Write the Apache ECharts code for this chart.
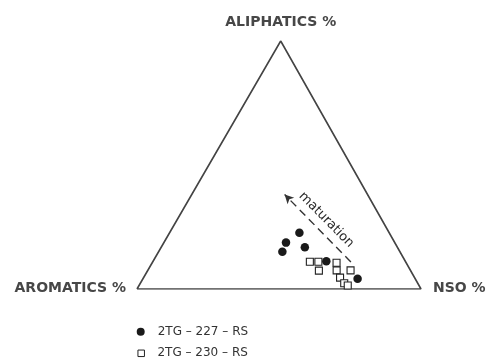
<!DOCTYPE html>
<html>
<head>
<meta charset="utf-8">
<title>Ternary diagram – aliphatics / aromatics / NSO</title>
<script src="https://cdn.jsdelivr.net/npm/echarts@6/dist/echarts.min.js"></script>
<style>
  html, body { margin: 0; padding: 0; background: #fff; }
  #chart { width: 490px; height: 361px; }
</style>
</head>
<body>
<div id="chart"></div>
<script>
// Compositions are [aliphatics %, aromatics %, NSO %]
const vertexNames = ['ALIPHATICS %', 'AROMATICS %', 'NSO %'];
const triangleCorners = [[0, 100, 0], [0, 0, 100], [100, 0, 0], [0, 100, 0]];

const seriesNames = ['2TG – 227 – RS', '2TG – 230 – RS'];

const sample227 = [
  [22.7, 31.6, 45.7],
  [18.7, 38.3, 43.0],
  [15.0, 41.4, 43.6],
  [16.8, 32.6, 50.6],
  [11.2, 27.8, 61.0],
  [4.1, 20.3, 75.6]
];

const sample230 = [
  [11.0, 33.7, 55.3],
  [11.0, 30.7, 58.3],
  [7.4, 32.3, 60.3],
  [10.6, 24.5, 64.9],
  [7.5, 26.0, 66.5],
  [4.6, 26.2, 69.1],
  [2.3, 25.9, 71.8],
  [1.4, 25.1, 73.5],
  [7.5, 21.1, 71.4]
];

// maturation trend: from the low-aliphatic end towards the arrow tip
const maturationTrend = [[10.9, 19.3, 69.8], [38.1, 29.2, 32.7]];
const trendLabel = 'maturation';

// horizontal position of the ALIPHATICS apex as a fraction of the base
const APEX_X = 0.506;

function toXY(c) {
  const s = c[0] + c[1] + c[2];
  const ali = c[0] / s, nso = c[2] / s;
  return [nso + ali * APEX_X, ali];
}

const chart = echarts.init(document.getElementById('chart'), null, { renderer: 'canvas' });

const labelFont = {
  fontFamily: 'DejaVu Sans',
  fontWeight: 'bold',
  fontSize: 14,
  fill: '#474747'
};

const legendText = {
  fontFamily: 'DejaVu Sans',
  fontSize: 12,
  lineHeight: 14,
  color: '#333',
  padding: [0, 0, 0, 8]
};

function legendRow(item, size, left, top) {
  return {
    orient: 'vertical',
    left: left,
    top: top,
    itemWidth: size,
    itemHeight: size,
    data: [item],
    textStyle: legendText,
    selectedMode: false
  };
}

const option = {
  backgroundColor: '#ffffff',
  animation: false,
  grid: { left: 137, top: 41, width: 284, height: 248 },
  xAxis: { type: 'value', min: 0, max: 1, show: false },
  yAxis: { type: 'value', min: 0, max: 1, show: false },
  legend: [
    legendRow({ name: seriesNames[0], icon: 'circle' }, 8, 131.7, 319.7),
    legendRow({ name: seriesNames[1], icon: 'rect',
                itemStyle: { color: '#fff', borderColor: '#222', borderWidth: 1 } },
              6.5, 132.45, 341.3)
  ],
  series: [
    {
      name: 'frame',
      type: 'line',
      silent: true,
      symbol: 'none',
      data: triangleCorners.map(toXY),
      lineStyle: { color: '#444', width: 1.6 },
      z: 1,
      markLine: {
        silent: true,
        symbol: ['none', 'arrow'],
        symbolSize: [7, 9],
        label: { show: false },
        lineStyle: { color: '#333', width: 1.4, type: [8, 5] },
        data: [[
          { coord: toXY(maturationTrend[0]) },
          { coord: toXY(maturationTrend[1]) }
        ]]
      }
    },
    {
      name: seriesNames[1],
      type: 'scatter',
      symbol: 'rect',
      symbolSize: 7,
      data: sample230.map(toXY),
      itemStyle: { color: '#ffffff', borderColor: '#222', borderWidth: 1.1, opacity: 1 },
      z: 3
    },
    {
      name: seriesNames[0],
      type: 'scatter',
      symbol: 'circle',
      symbolSize: 8.5,
      data: sample227.map(toXY),
      itemStyle: { color: '#1a1a1a', opacity: 1 },
      z: 4
    }
  ]
};

chart.setOption(option);

// vertex captions and the trend label, placed from the chart's own scales
const pApex = chart.convertToPixel({ gridIndex: 0 }, toXY([100, 0, 0]));
const pLeft = chart.convertToPixel({ gridIndex: 0 }, toXY([0, 100, 0]));
const pRight = chart.convertToPixel({ gridIndex: 0 }, toXY([0, 0, 100]));
const t0 = chart.convertToPixel({ gridIndex: 0 }, toXY(maturationTrend[0]));
const t1 = chart.convertToPixel({ gridIndex: 0 }, toXY(maturationTrend[1]));
const angle = Math.atan2(-(t0[1] - t1[1]), t0[0] - t1[0]);
const mid = [(t0[0] + t1[0]) / 2, (t0[1] + t1[1]) / 2];
const nx = Math.sin(-angle), ny = -Math.cos(-angle);

chart.setOption({
  graphic: [
    { type: 'text', x: pApex[0], y: pApex[1] - 19,
      style: Object.assign({ text: vertexNames[0], align: 'center', verticalAlign: 'middle' }, labelFont) },
    { type: 'text', x: pLeft[0] - 11, y: pLeft[1] - 1,
      style: Object.assign({ text: vertexNames[1], align: 'right', verticalAlign: 'middle' }, labelFont) },
    { type: 'text', x: pRight[0] + 12, y: pRight[1] - 1,
      style: Object.assign({ text: vertexNames[2], align: 'left', verticalAlign: 'middle' }, labelFont) },
    { type: 'text', x: mid[0] + nx * 12, y: mid[1] + ny * 12, rotation: angle,
      style: { text: trendLabel, align: 'center', verticalAlign: 'middle',
               fontFamily: 'DejaVu Sans', fontSize: 13, fontWeight: 500, fill: '#2a2a2a' } }
  ]
});
</script>
</body>
</html>
